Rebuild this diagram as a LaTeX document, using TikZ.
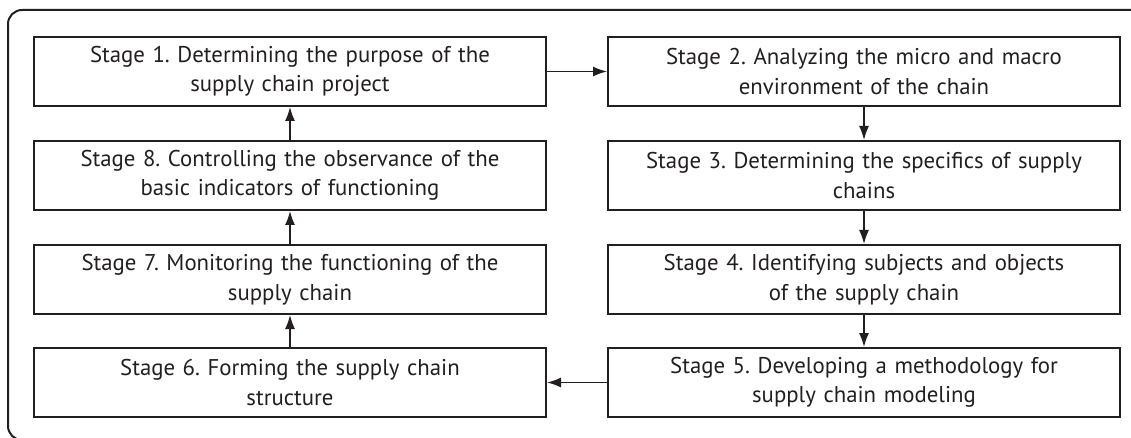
\documentclass[tikz,border=0pt]{standalone}
\usepackage{fontspec}
\setmainfont{PT Sans}
\usetikzlibrary{arrows.meta}
\definecolor{ink}{HTML}{231F20}
\frenchspacing
\begin{document}
\begin{tikzpicture}[x=1pt,y=-1pt,
  stagebox/.style={draw=ink, line width=2pt, minimum width=512pt, minimum height=69pt,
    text width=500pt, align=center, inner sep=0pt, text=ink,
    font=\fontsize{22.8}{29.5}\selectfont\frenchspacing},
  flow/.style={draw=ink, line width=1.5pt, -{Latex[length=14pt,width=10pt]}}]
\useasboundingbox (0,0) rectangle (1131,438);
\begin{scope}
  \clip (0,0) rectangle (1131,438);
  \draw[ink, line width=2pt, rounded corners=14pt] (8,10) rectangle (1170,440);
\end{scope}
\node[stagebox] (s1) at (290,71.5)  {Stage 1. Determining the purpose of the\\supply chain project};
\node[stagebox] (s8) at (290,175.5) {Stage 8. Controlling the observance of the\\basic indicators of functioning};
\node[stagebox] (s7) at (290,279.5) {Stage 7. Monitoring the functioning of the\\supply chain};
\node[stagebox] (s6) at (290,382.5) {Stage 6. Forming the supply chain\\structure};
\node[stagebox] (s2) at (864,71.5)  {Stage 2. Analyzing the micro and macro\\environment of the chain};
\node[stagebox] (s3) at (864,175.5) {Stage 3. Determining the specifics of supply\\chains};
\node[stagebox] (s4) at (864,279.5) {Stage 4. Identifying subjects and objects\\of the supply chain};
\node[stagebox] (s5) at (864,382.5) {Stage 5. Developing a methodology for\\supply chain modeling};
\draw[flow] (s1) -- (s2);
\draw[flow] (s2) -- (s3);
\draw[flow] (s3) -- (s4);
\draw[flow] (s4) -- (s5);
\draw[flow] (s5) -- (s6);
\draw[flow] (s6) -- (s7);
\draw[flow] (s7) -- (s8);
\draw[flow] (s8) -- (s1);
\end{tikzpicture}
\end{document}
